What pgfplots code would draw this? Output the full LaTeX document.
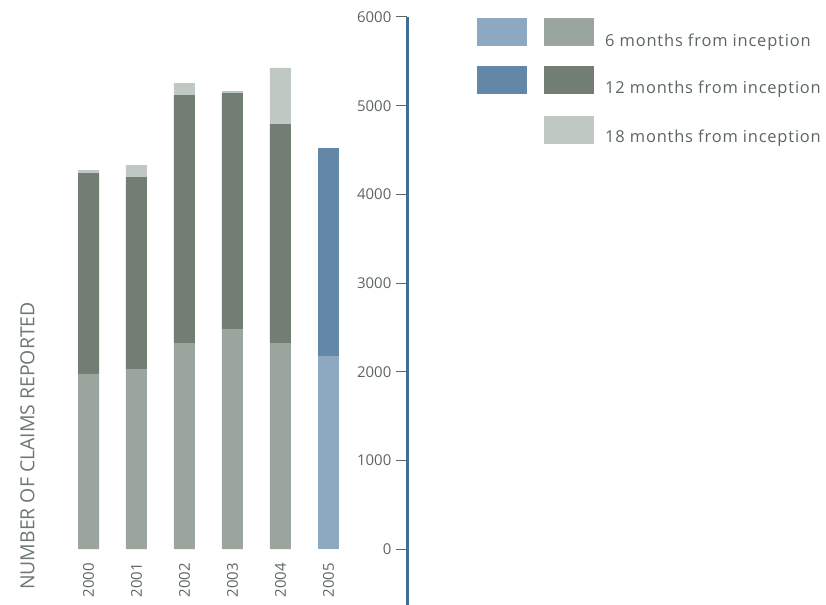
\documentclass[border=0pt]{standalone}
\usepackage{fontspec}
\setmainfont{Open Sans}
\newfontfamily\legendfont[LetterSpace=5]{Open Sans}
\usepackage{pgfplots}
\pgfplotsset{compat=1.18}
\definecolor{gsix}{HTML}{9AA59E}
\definecolor{gtwelve}{HTML}{727E74}
\definecolor{geighteen}{HTML}{C0C8C3}
\definecolor{bsix}{HTML}{8DA8C1}
\definecolor{btwelve}{HTML}{6388A7}
\definecolor{axisblue}{HTML}{3C6E97}
\definecolor{tgray}{HTML}{5C6660}
\definecolor{lgray}{HTML}{6E7872}
\begin{document}
\begin{tikzpicture}
\useasboundingbox (0bp,0bp) rectangle (826bp,605bp);
\begin{axis}[
  at={(64.5bp,0bp)}, anchor=south west,
  scale only axis, width=343bp, height=588bp,
  xmin=-0.5, xmax=6.646, ymin=-630, ymax=6000,
  ybar stacked, bar width=21bp,
  axis y line*=right, axis x line*=bottom,
  x axis line style={draw=none},
  y axis line style={draw=axisblue, line width=3bp},
  xtick={0,1,2,3,4,5},
  xticklabels={2000,2001,2002,2003,2004,2005},
  xtick style={draw=none},
  xticklabel style={rotate=90, anchor=east, inner sep=0pt, font=\fontsize{15}{17}\selectfont, text=tgray},
  xticklabel shift=-42bp,
  ytick={0,1000,2000,3000,4000,5000,6000},
  tick align=inside,
  major tick length=11.5bp,
  ytick style={draw=tgray, line width=1bp},
  yticklabel style={anchor=east, inner sep=0pt, xshift=-16bp, font=\fontsize{15}{17}\selectfont, text=tgray},
  /pgf/number format/assume math mode=true,
  /pgf/number format/1000 sep={},
  clip=false,
]
\addplot[fill=gsix, draw=none] coordinates {(0,1975) (1,2030) (2,2323) (3,2481) (4,2323) (5,0)};
\addplot[fill=bsix, draw=none] coordinates {(0,0) (1,0) (2,0) (3,0) (4,0) (5,2177)};
\addplot[fill=gtwelve, draw=none] coordinates {(0,2265) (1,2165) (2,2797) (3,2662) (4,2470) (5,0)};
\addplot[fill=btwelve, draw=none] coordinates {(0,0) (1,0) (2,0) (3,0) (4,0) (5,2345)};
\addplot[fill=geighteen, draw=none] coordinates {(0,34) (1,136) (2,135) (3,22) (4,632) (5,0)};
\end{axis}
% legend
\fill[bsix] (477bp,559bp) rectangle (527bp,587bp);
\fill[gsix] (544bp,559bp) rectangle (594bp,587bp);
\fill[btwelve] (477bp,511bp) rectangle (527bp,539bp);
\fill[gtwelve] (544bp,511bp) rectangle (594bp,539bp);
\fill[geighteen] (544bp,461bp) rectangle (594bp,489bp);
\node[anchor=base west, inner sep=0pt, text=tgray, font=\legendfont\fontsize{16.5}{18}\selectfont] at (605bp,558bp) {6 months from inception};
\node[anchor=base west, inner sep=0pt, text=tgray, font=\legendfont\fontsize{16.5}{18}\selectfont] at (605bp,511bp) {12 months from inception};
\node[anchor=base west, inner sep=0pt, text=tgray, font=\legendfont\fontsize{16.5}{18}\selectfont] at (605bp,462bp) {18 months from inception};
\node[rotate=90, inner sep=0pt, text=lgray, font=\fontsize{19.5}{21}\selectfont] at (27.5bp,159bp) {NUMBER OF CLAIMS REPORTED};
\end{tikzpicture}
\end{document}
